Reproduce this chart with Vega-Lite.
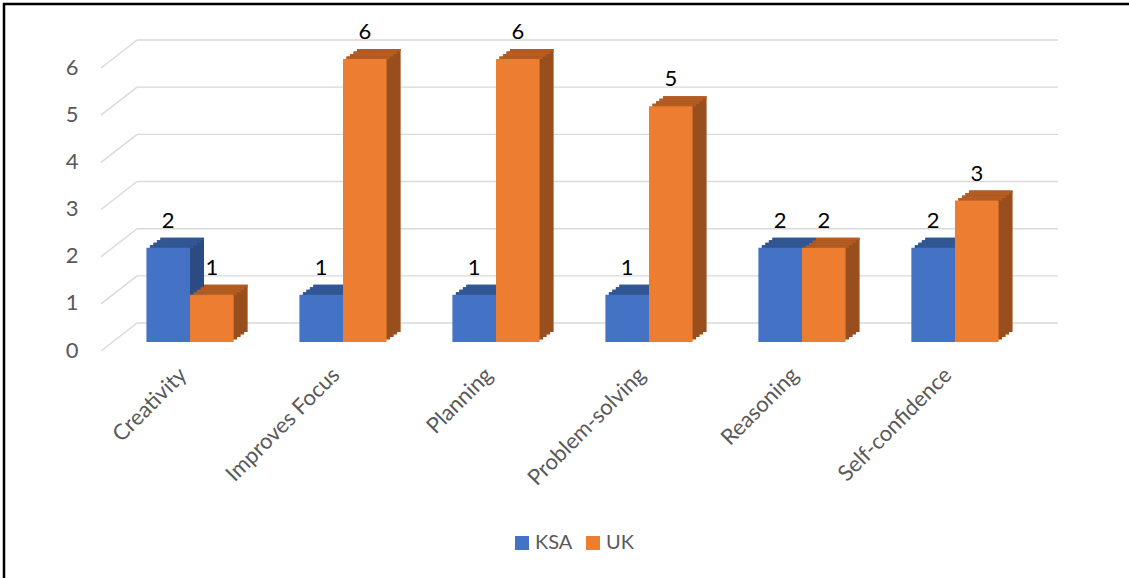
{
  "$schema": "https://vega.github.io/schema/vega-lite/v6.json",
  "width": 1137,
  "height": 600,
  "autosize": {"type": "none"},
  "padding": {"left": 4, "top": 4, "right": 0, "bottom": 0},
  "background": "white",
  "config": {"view": {"stroke": "black", "strokeWidth": 2.5}, "font": "Lato"},
  "datasets": {
    "bars": [
      {"cat": "Creativity", "series": "KSA", "v": 2},
      {"cat": "Creativity", "series": "UK", "v": 1},
      {"cat": "Improves Focus", "series": "KSA", "v": 1},
      {"cat": "Improves Focus", "series": "UK", "v": 6},
      {"cat": "Planning", "series": "KSA", "v": 1},
      {"cat": "Planning", "series": "UK", "v": 6},
      {"cat": "Problem-solving", "series": "KSA", "v": 1},
      {"cat": "Problem-solving", "series": "UK", "v": 5},
      {"cat": "Reasoning", "series": "KSA", "v": 2},
      {"cat": "Reasoning", "series": "UK", "v": 2},
      {"cat": "Self-confidence", "series": "KSA", "v": 2},
      {"cat": "Self-confidence", "series": "UK", "v": 3}
    ],
    "grid": [{"v": 0}, {"v": 1}, {"v": 2}, {"v": 3}, {"v": 4}, {"v": 5}, {"v": 6}]
  },
  "layer": [
    {
      "data": {"name": "grid"},
      "mark": {"type": "rule", "color": "#d9d9d9", "strokeWidth": 1.4, "xOffset": -53, "x2Offset": 103, "yOffset": -19, "y2Offset": -19},
      "encoding": {
        "x": {"datum": "Creativity", "type": "nominal"},
        "x2": {"datum": "Self-confidence"},
        "y": {"field": "v", "type": "quantitative"}
      }
    },
    {
      "data": {"name": "grid"},
      "mark": {"type": "rule", "color": "#d9d9d9", "strokeWidth": 1.4, "xOffset": -89, "x2Offset": -53, "yOffset": 9, "y2Offset": -19},
      "encoding": {
        "x": {"datum": "Creativity", "type": "nominal"},
        "x2": {"datum": "Creativity"},
        "y": {"field": "v", "type": "quantitative"},
        "y2": {"field": "v"}
      }
    },
    {
      "data": {"name": "bars"},
      "mark": {"type": "bar", "yOffset": -2.5, "y2Offset": -2.5},
      "encoding": {
        "x": {"field": "cat", "type": "nominal"},
        "xOffset": {"field": "series", "type": "nominal", "sort": ["KSA", "UK"], "scale": {"range": [3.5, 90.7]}},
        "y": {"field": "v", "type": "quantitative"},
        "y2": {"datum": 0},
        "color": {"condition": {"test": "datum.series === 'KSA'", "value": "#2c4b82"}, "value": "#984e1d"}
      }
    },
    {
      "data": {"name": "bars"},
      "mark": {"type": "bar", "yOffset": -5, "y2Offset": -5},
      "encoding": {
        "x": {"field": "cat", "type": "nominal"},
        "xOffset": {"field": "series", "type": "nominal", "sort": ["KSA", "UK"], "scale": {"range": [7, 94.2]}},
        "y": {"field": "v", "type": "quantitative"},
        "y2": {"datum": 0},
        "color": {"condition": {"test": "datum.series === 'KSA'", "value": "#2c4b82"}, "value": "#984e1d"}
      }
    },
    {
      "data": {"name": "bars"},
      "mark": {"type": "bar", "yOffset": -7.5, "y2Offset": -7.5},
      "encoding": {
        "x": {"field": "cat", "type": "nominal"},
        "xOffset": {"field": "series", "type": "nominal", "sort": ["KSA", "UK"], "scale": {"range": [10.5, 97.7]}},
        "y": {"field": "v", "type": "quantitative"},
        "y2": {"datum": 0},
        "color": {"condition": {"test": "datum.series === 'KSA'", "value": "#2c4b82"}, "value": "#984e1d"}
      }
    },
    {
      "data": {"name": "bars"},
      "mark": {"type": "bar", "yOffset": -10, "y2Offset": -10},
      "encoding": {
        "x": {"field": "cat", "type": "nominal"},
        "xOffset": {"field": "series", "type": "nominal", "sort": ["KSA", "UK"], "scale": {"range": [14, 101.2]}},
        "y": {"field": "v", "type": "quantitative"},
        "y2": {"datum": 0},
        "color": {"condition": {"test": "datum.series === 'KSA'", "value": "#2c4b82"}, "value": "#984e1d"}
      }
    },
    {
      "data": {"name": "bars"},
      "mark": {"type": "bar", "yOffset": -2.5, "y2Offset": 0},
      "encoding": {
        "x": {"field": "cat", "type": "nominal"},
        "xOffset": {"field": "series", "type": "nominal", "sort": ["KSA", "UK"], "scale": {"range": [3.5, 90.7]}},
        "y": {"field": "v", "type": "quantitative"},
        "y2": {"field": "v"},
        "color": {"condition": {"test": "datum.series === 'KSA'", "value": "#325795"}, "value": "#b45c22"}
      }
    },
    {
      "data": {"name": "bars"},
      "mark": {"type": "bar", "yOffset": -5, "y2Offset": -2.5},
      "encoding": {
        "x": {"field": "cat", "type": "nominal"},
        "xOffset": {"field": "series", "type": "nominal", "sort": ["KSA", "UK"], "scale": {"range": [7, 94.2]}},
        "y": {"field": "v", "type": "quantitative"},
        "y2": {"field": "v"},
        "color": {"condition": {"test": "datum.series === 'KSA'", "value": "#325795"}, "value": "#b45c22"}
      }
    },
    {
      "data": {"name": "bars"},
      "mark": {"type": "bar", "yOffset": -7.5, "y2Offset": -5},
      "encoding": {
        "x": {"field": "cat", "type": "nominal"},
        "xOffset": {"field": "series", "type": "nominal", "sort": ["KSA", "UK"], "scale": {"range": [10.5, 97.7]}},
        "y": {"field": "v", "type": "quantitative"},
        "y2": {"field": "v"},
        "color": {"condition": {"test": "datum.series === 'KSA'", "value": "#325795"}, "value": "#b45c22"}
      }
    },
    {
      "data": {"name": "bars"},
      "mark": {"type": "bar", "yOffset": -10, "y2Offset": -7.5},
      "encoding": {
        "x": {"field": "cat", "type": "nominal"},
        "xOffset": {"field": "series", "type": "nominal", "sort": ["KSA", "UK"], "scale": {"range": [14, 101.2]}},
        "y": {"field": "v", "type": "quantitative"},
        "y2": {"field": "v"},
        "color": {"condition": {"test": "datum.series === 'KSA'", "value": "#325795"}, "value": "#b45c22"}
      }
    },
    {
      "data": {"name": "bars"},
      "layer": [
        {
          "mark": {"type": "bar"},
          "encoding": {
            "x": {
              "field": "cat", "type": "nominal",
              "sort": ["Creativity", "Improves Focus", "Planning", "Problem-solving", "Reasoning", "Self-confidence"],
              "scale": {"paddingInner": 0.43, "paddingOuter": 0.931},
              "axis": {"orient": "bottom", "offset": -237, "labelAngle": -45, "labelAlign": "right", "labelBaseline": "middle", "ticks": false, "domain": false, "grid": false, "title": null, "labelFontSize": 22, "labelColor": "#595959", "labelPadding": 4, "labelOffset": -7}
            },
            "xOffset": {"field": "series", "type": "nominal", "sort": ["KSA", "UK"]},
            "y": {
              "field": "v", "type": "quantitative",
              "scale": {"domain": [-5.554, 7.166], "nice": false, "zero": false},
              "axis": {"values": [0, 1, 2, 3, 4, 5, 6], "orient": "left", "offset": -74, "ticks": false, "domain": false, "grid": false, "title": null, "labelFontSize": 22, "labelColor": "#595959", "labelPadding": 0, "labelOffset": 8}
            },
            "y2": {"datum": 0},
            "color": {
              "field": "series", "type": "nominal",
              "scale": {"domain": ["KSA", "UK"], "range": ["#4472c4", "#ed7d31"]},
              "legend": {"title": null, "orient": "none", "legendX": 508, "legendY": 529, "direction": "horizontal", "symbolType": "square", "symbolSize": 196, "symbolStrokeWidth": 0, "labelFontSize": 20, "labelColor": "#595959", "labelOffset": 3, "columnPadding": 10, "padding": 0}
            }
          }
        },
        {
          "mark": {"type": "text", "baseline": "alphabetic", "dy": -20, "fontSize": 22, "color": "black"},
          "encoding": {
            "x": {"field": "cat", "type": "nominal"},
            "xOffset": {"field": "series", "type": "nominal", "sort": ["KSA", "UK"]},
            "y": {"field": "v", "type": "quantitative"},
            "text": {"field": "v", "type": "quantitative"}
          }
        }
      ]
    }
  ],
  "resolve": {"scale": {"xOffset": "independent"}}
}
